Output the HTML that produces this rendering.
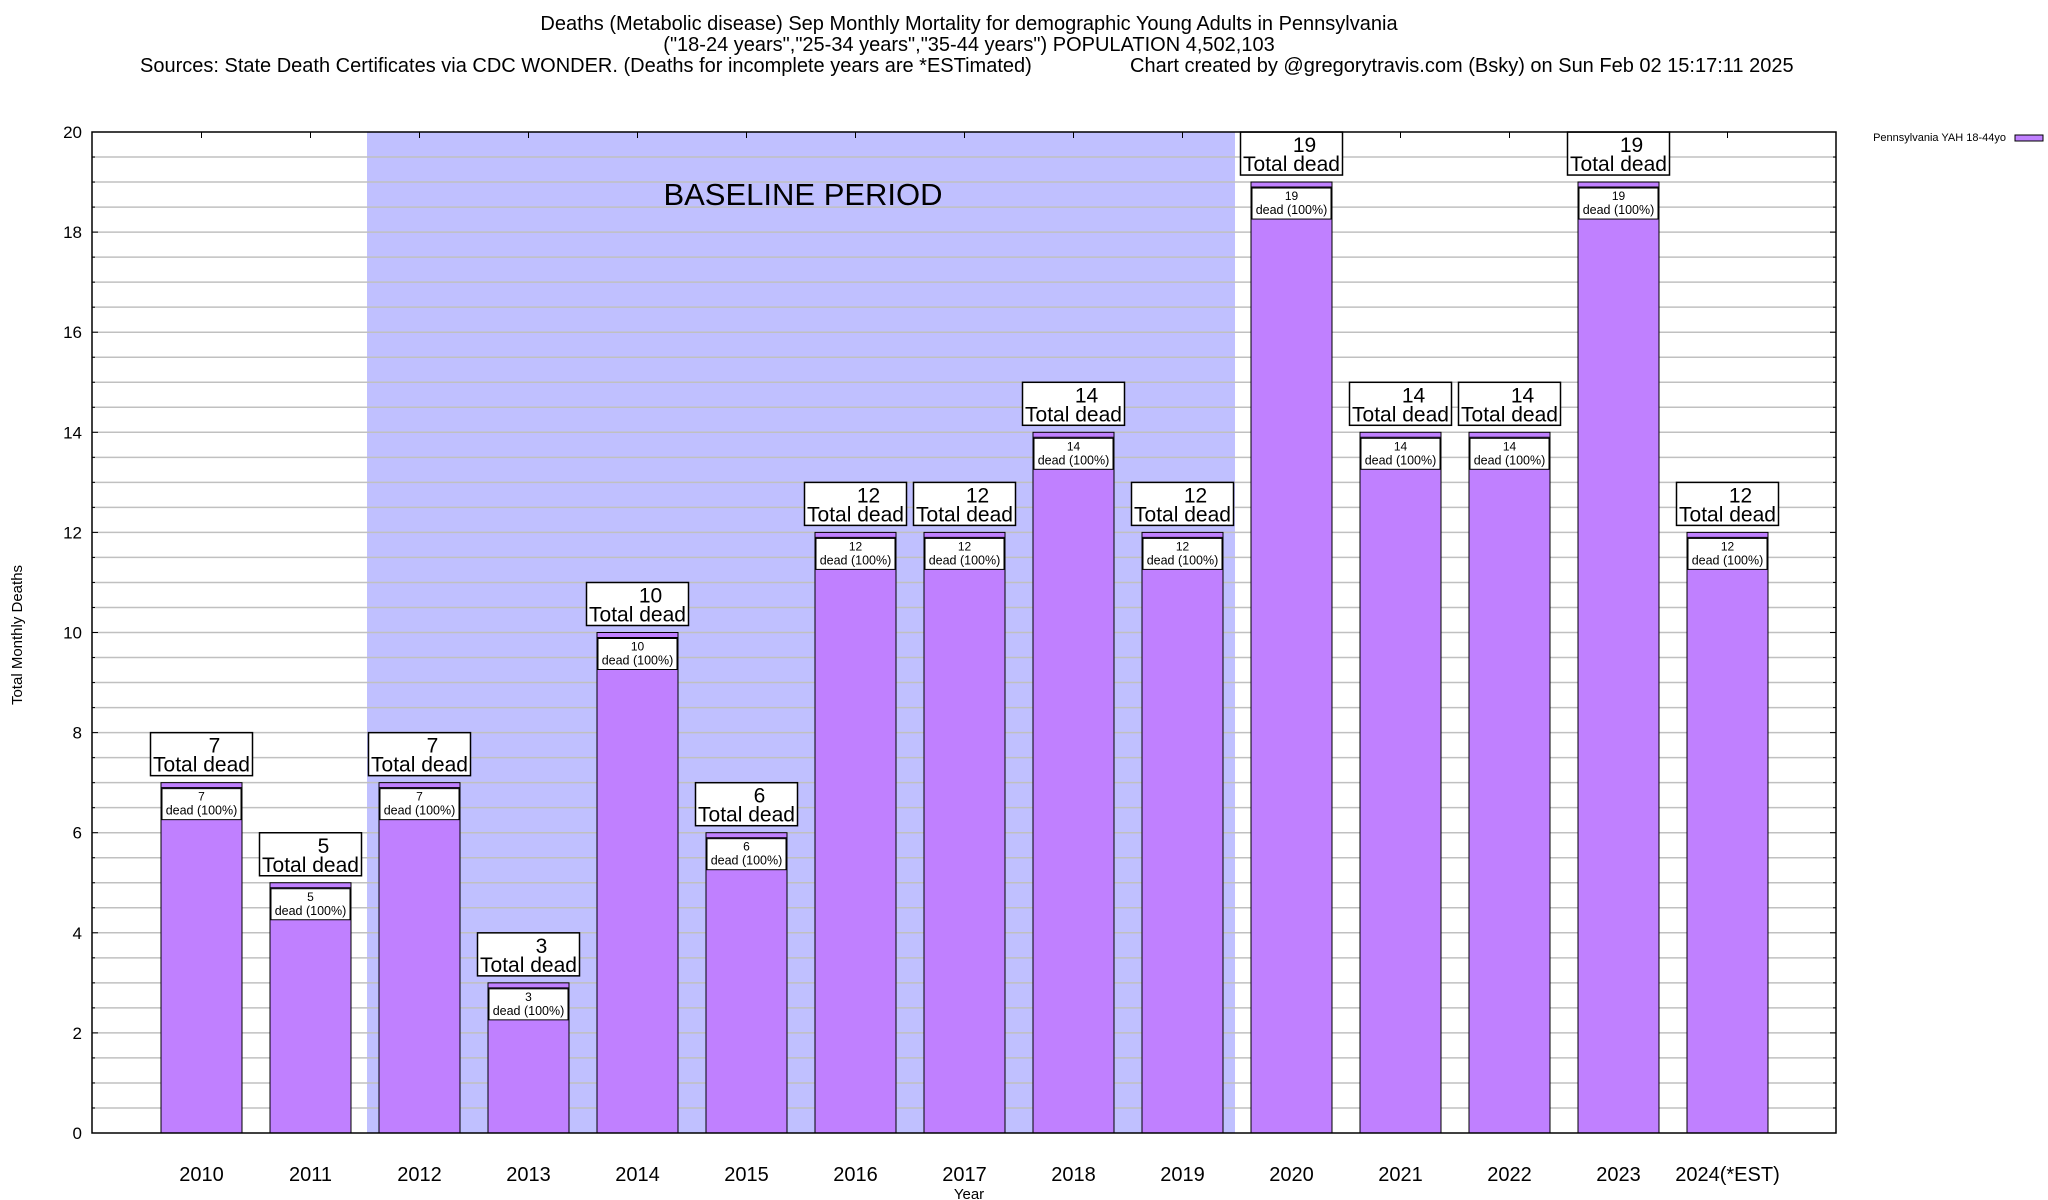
<!DOCTYPE html>
<html><head><meta charset="utf-8"><style>
body{margin:0;background:#fff;font-family:"Liberation Sans",sans-serif;}
svg{display:block}
</style></head><body>
<svg id="chart" width="2048" height="1200" xmlns="http://www.w3.org/2000/svg" font-family="Liberation Sans, sans-serif">
<g font-size="20" text-anchor="middle">
<text x="969" y="30">Deaths (Metabolic disease) Sep Monthly Mortality for demographic Young Adults in Pennsylvania</text>
<text x="969" y="51">("18-24 years","25-34 years","35-44 years") POPULATION 4,502,103</text>
<text x="140" y="72" text-anchor="start">Sources: State Death Certificates via CDC WONDER. (Deaths for incomplete years are *ESTimated)</text>
<text x="1130" y="72" text-anchor="start">Chart created by @gregorytravis.com (Bsky) on Sun Feb 02 15:17:11 2025</text>
</g>
<g id="plot"></g>
<text x="22" y="635" font-size="15" text-anchor="middle" transform="rotate(-90 22 635)">Total Monthly Deaths</text>
<text x="969" y="1199" font-size="15" text-anchor="middle">Year</text>
<g>
<text x="2006" y="141" font-size="11" text-anchor="end">Pennsylvania YAH 18-44yo</text>
<rect x="2015" y="135" width="28" height="6" fill="#c080ff" stroke="#000" stroke-width="1"/>
</g>
</svg>
<script>
const categories=["2010","2011","2012","2013","2014","2015","2016","2017","2018","2019","2020","2021","2022","2023","2024(*EST)"];
const deaths=[7,5,7,3,10,6,12,12,14,12,19,14,14,19,12];
const yTicks=[0,2,4,6,8,10,12,14,16,18,20];
const baselineStart="2012", baselineEnd="2019";
const NS="http://www.w3.org/2000/svg";
const L=92,R=1836,T=132,B=1133,yMax=20;
const step=109.0, x0=201.5, bw=81;
const xs=i=>x0+i*step;
const ys=v=>B-(v/yMax)*(B-T);
const g=document.getElementById('plot');
function el(t,a,p){const e=document.createElementNS(NS,t);for(const k in a)e.setAttribute(k,a[k]);(p||g).appendChild(e);return e;}
const bi=categories.indexOf(baselineStart), be=categories.indexOf(baselineEnd);
const sh=el('rect',{x:xs(bi)-step/2+2,y:T,width:(be-bi+1)*step-4,height:B-T,fill:'#c0c0ff'});


for(let v=0.5;v<yMax;v+=0.5){
 const y=ys(v);
 const ln=el('line',{x1:L,x2:R,y1:y,y2:y,stroke:'#c0c0c0','stroke-width':1.5});
 
 
 const big=Number.isInteger(v/2);
 el('line',{x1:L,x2:L+(big?6:3),y1:y,y2:y,stroke:'#000','stroke-width':1});
 el('line',{x1:R,x2:R-(big?6:3),y1:y,y2:y,stroke:'#000','stroke-width':1});
}
const bt=el('text',{x:803,y:205,'font-size':31,'text-anchor':'middle'});
bt.textContent='BASELINE PERIOD';


yTicks.forEach(v=>{
 const t=el('text',{x:82,y:ys(v)+6,'font-size':17,'text-anchor':'end'});
 t.textContent=v;
 
 
});
categories.forEach((c,i)=>{
 const x=xs(i), v=deaths[i], y=ys(v);
 el('line',{x1:x,x2:x,y1:T,y2:T+6,stroke:'#000'});
 el('line',{x1:x,x2:x,y1:B,y2:B-6,stroke:'#000'});
 const bar=el('rect',{x:x-bw/2,y:y,width:bw,height:B-y,fill:'#c080ff',stroke:'#000','stroke-width':1});
 
 
 el('line',{x1:x-bw/2,x2:x+bw/2,y1:y+5,y2:y+5,stroke:'#000','stroke-width':1});
 const ib=el('rect',{x:x-bw/2+1,y:y+6,width:bw-2,height:31,fill:'#fff',stroke:'#000','stroke-width':1});
 
 
 const t1=el('text',{x:x,y:y+18,'font-size':12,'text-anchor':'middle'});t1.textContent=v;
 const t2=el('text',{x:x,y:y+32,'font-size':12.5,'text-anchor':'middle'});t2.textContent='dead (100%)';
 const ob=el('rect',{x:x-51,y:y-50,width:102,height:43,fill:'#fff',stroke:'#000','stroke-width':1.5});
 
 
 const t3=el('text',{x:x+13,y:y-30,'font-size':21,'text-anchor':'middle'});t3.textContent=v;
 const t4=el('text',{x:x,y:y-11,'font-size':21,'text-anchor':'middle'});t4.textContent='Total dead';
 const xl=el('text',{x:x,y:1181,'font-size':20,'text-anchor':'middle'});xl.textContent=c;
 
 
});
const fr=el('rect',{x:L,y:T,width:R-L,height:B-T,fill:'none',stroke:'#000','stroke-width':1.5});


</script>
</body></html>
